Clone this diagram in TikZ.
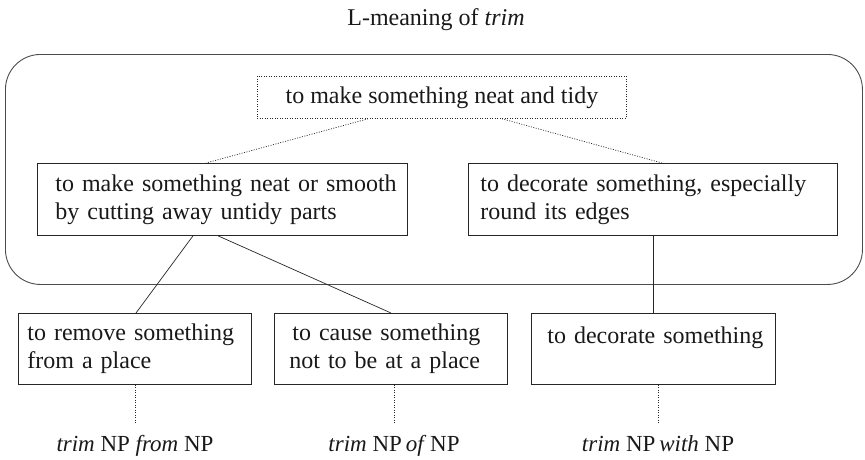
\documentclass[tikz,border=0pt]{standalone}
\usepackage{fontspec}
\setmainfont{Liberation Serif}
\usetikzlibrary{calc}
\begin{document}
\begin{tikzpicture}[x=1pt,y=-1pt,
  every node/.style={font=\fontsize{24}{28}\selectfont, inner sep=0pt, text=black!90},
  sensebox/.style={draw=black!85, line width=0.8pt, anchor=north west, align=left, inner ysep=0pt},
  gistbox/.style={draw=black!85, line width=0.8pt, dash pattern=on 1pt off 1.5pt, anchor=north west},
  frame/.style={draw=black!70, line width=0.9pt, rounded corners=35pt, anchor=north west},
  link/.style={draw=black!85, line width=0.7pt},
  dotlink/.style={draw=black!85, line width=0.7pt, dash pattern=on 1pt off 1.5pt},
  pattern/.style={anchor=base, font=\fontsize{23}{27}\selectfont}
]
\useasboundingbox (0,0) rectangle (865,459);

% heading
\node[anchor=base] (title) at (436,25) {L-meaning of \textit{trim}};

% the enclosing frame around the L-meaning
\node[frame, minimum width=857pt, minimum height=230pt] (frame) at (5,54) {};

% general sense
\node[gistbox, minimum width=369pt, minimum height=42pt] (gist) at (257,76)
  {to make something neat and tidy};

% the two senses inside the frame
\node[sensebox, minimum width=370pt, minimum height=72pt, inner xsep=18pt, text width=334pt] (cut) at (37,163)
  {\mbox{to make something neat or smooth}\\\mbox{by cutting away untidy parts}};
\node[sensebox, minimum width=369pt, minimum height=72pt, inner xsep=12pt, text width=345pt] (deco) at (468,163)
  {\mbox{to decorate something, especially}\\\mbox{round its edges}};

% the more specific senses
\node[sensebox, minimum width=233pt, minimum height=71pt, inner xsep=9pt, text width=215pt] (remove) at (18,313)
  {\mbox{to remove something}\\\mbox{from a place}};
\node[sensebox, minimum width=233pt, minimum height=71pt, inner xsep=15pt, text width=203pt] (cause) at (274,313)
  {\mbox{\hspace{3pt}to cause something}\\\mbox{not to be at a place}};
\node[sensebox, minimum width=244pt, minimum height=71pt, inner xsep=16pt, text width=212pt] (decorate) at (531,313)
  {\mbox{to decorate something}\\\mbox{}};

% syntactic patterns
\node[pattern] (pfrom) at (135,451) {\textit{trim} NP \textit{from} NP};
\node[pattern] (pof) at (394,451) {\textit{trim} NP\,\textit{of}\,NP};
\node[pattern] (pwith) at (658,451) {\textit{trim} NP\,\textit{with} NP};

% links from the general sense
\draw[dotlink] ($(gist.south west)+(111,0)$) -- ($(cut.north west)+(169,0)$);
\draw[dotlink] ($(gist.south west)+(245,0)$) -- ($(deco.north west)+(194,0)$);

% links to the specific senses
\draw[link] ($(cut.south west)+(156,0)$) -- ($(remove.north west)+(118,0)$);
\draw[link] ($(cut.south west)+(181,0)$) -- ($(cause.north west)+(117,0)$);
\draw[link] ($(deco.south west)+(185,0)$) -- ($(decorate.north west)+(122,0)$);

% links to the patterns
\draw[dotlink, shorten >=12pt] (pfrom.north |- remove.south) -- (pfrom.north);
\draw[dotlink, shorten >=12pt] (pof.north |- cause.south) -- (pof.north);
\draw[dotlink, shorten >=12pt] (pwith.north |- decorate.south) -- (pwith.north);
\end{tikzpicture}
\end{document}
